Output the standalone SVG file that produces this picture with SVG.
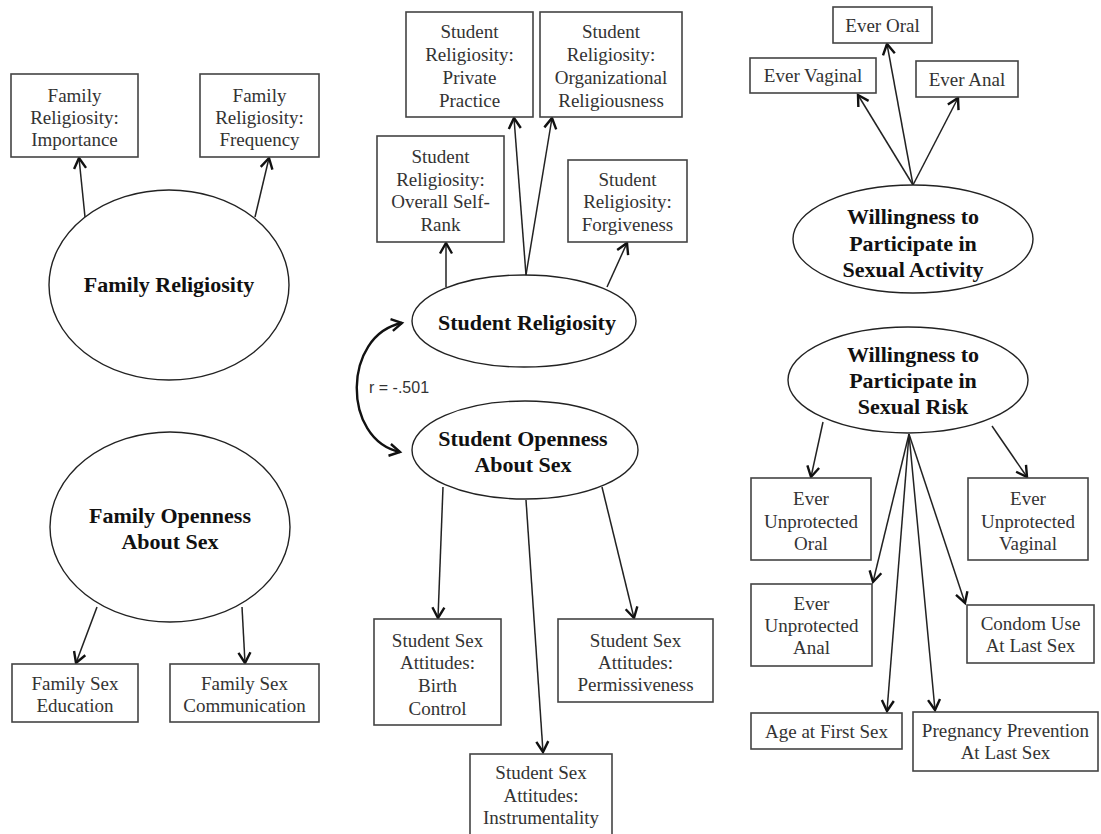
<svg xmlns="http://www.w3.org/2000/svg" width="1101" height="834" viewBox="0 0 1101 834">
<defs>
<marker id="ah" viewBox="-13 -8 16 16" refX="0" refY="0" markerWidth="16" markerHeight="16" markerUnits="userSpaceOnUse" orient="auto-start-reverse">
<path d="M-10.5,-6 L0,0 L-10.5,6" fill="none" stroke="#111" stroke-width="2.4"/>
</marker>
</defs>
<style>
.box{fill:#fff;stroke:#444;stroke-width:1.6}
.ell{fill:#fff;stroke:#222;stroke-width:1.4}
.t{font-family:"Liberation Serif","Times New Roman",serif;font-size:19px;fill:#333;text-anchor:middle}
.b{font-family:"Liberation Serif","Times New Roman",serif;font-size:22px;font-weight:bold;fill:#111;text-anchor:middle}
.c{fill:none;stroke:#222;stroke-width:1.5;marker-end:url(#ah)}
.r{font-family:"Liberation Sans",Arial,sans-serif;font-size:16px;fill:#333}
</style>
<rect width="1101" height="834" fill="#fff"/>

<g id="connectors">
<path class="c" d="M85,217 L79,158"/>
<path class="c" d="M255,217 L269,158"/>
<path class="c" d="M446,287 L446,243"/>
<path class="c" d="M526,275 L514,118"/>
<path class="c" d="M526,275 L552,118"/>
<path class="c" d="M607,287 L627,243"/>
<path class="c" d="M913,185 L858,95"/>
<path class="c" d="M913,185 L887,44"/>
<path class="c" d="M913,185 L958,98"/>
<path class="c" d="M97,607 L76,663"/>
<path class="c" d="M242,607 L245,663"/>
<path class="c" d="M443,487 L438,618"/>
<path class="c" d="M526,500 L543,752"/>
<path class="c" d="M602,487 L634,618"/>
<path class="c" d="M823,422 L811,477"/>
<path class="c" d="M992,426 L1027,477"/>
<path class="c" d="M909,434 L873,582"/>
<path class="c" d="M909,434 L887,711"/>
<path class="c" d="M909,434 L935,710"/>
<path class="c" d="M909,434 L965,603"/>
<path d="M402,323 C342,335 342,440 400,452" fill="none" stroke="#111" stroke-width="2.4" marker-start="url(#ah)" marker-end="url(#ah)"/>
<text class="r" x="369" y="393">r = -.501</text>
</g>

<g id="family-religiosity">
<ellipse class="ell" cx="169" cy="285" rx="120" ry="95"/>
<text class="b" x="169" y="292">Family Religiosity</text>
</g>
<g id="fr-importance">
<rect class="box" x="11" y="74" width="127" height="83"/>
<text class="t" x="74.5" y="102">Family</text>
<text class="t" x="74.5" y="124">Religiosity:</text>
<text class="t" x="74.5" y="146">Importance</text>
</g>
<g id="fr-frequency">
<rect class="box" x="200" y="74" width="119" height="83"/>
<text class="t" x="259.5" y="102">Family</text>
<text class="t" x="259.5" y="124">Religiosity:</text>
<text class="t" x="259.5" y="146">Frequency</text>
</g>

<g id="family-openness">
<ellipse class="ell" cx="170" cy="527" rx="120" ry="95"/>
<text class="b" x="170" y="523">Family Openness</text>
<text class="b" x="170" y="549">About Sex</text>
</g>
<g id="fs-education">
<rect class="box" x="12" y="664" width="126" height="58"/>
<text class="t" x="75" y="690">Family Sex</text>
<text class="t" x="75" y="712">Education</text>
</g>
<g id="fs-communication">
<rect class="box" x="170" y="664" width="149" height="58"/>
<text class="t" x="244.5" y="690">Family Sex</text>
<text class="t" x="244.5" y="712">Communication</text>
</g>

<g id="student-religiosity">
<ellipse class="ell" cx="524" cy="321" rx="112" ry="46"/>
<text class="b" x="527" y="330">Student Religiosity</text>
</g>
<g id="sr-private">
<rect class="box" x="406" y="12" width="127" height="105"/>
<text class="t" x="469.5" y="38">Student</text>
<text class="t" x="469.5" y="61">Religiosity:</text>
<text class="t" x="469.5" y="84">Private</text>
<text class="t" x="469.5" y="107">Practice</text>
</g>
<g id="sr-organizational">
<rect class="box" x="540" y="12" width="142" height="105"/>
<text class="t" x="611" y="38">Student</text>
<text class="t" x="611" y="61">Religiosity:</text>
<text class="t" x="611" y="84">Organizational</text>
<text class="t" x="611" y="107">Religiousness</text>
</g>
<g id="sr-overall">
<rect class="box" x="377" y="136" width="127" height="106"/>
<text class="t" x="440.5" y="163">Student</text>
<text class="t" x="440.5" y="186">Religiosity:</text>
<text class="t" x="440.5" y="208">Overall Self-</text>
<text class="t" x="440.5" y="231">Rank</text>
</g>
<g id="sr-forgiveness">
<rect class="box" x="568" y="160" width="119" height="82"/>
<text class="t" x="627.5" y="186">Student</text>
<text class="t" x="627.5" y="208">Religiosity:</text>
<text class="t" x="627.5" y="231">Forgiveness</text>
</g>

<g id="student-openness">
<ellipse class="ell" cx="525" cy="450" rx="113" ry="49"/>
<text class="b" x="523" y="446">Student Openness</text>
<text class="b" x="523" y="472">About Sex</text>
</g>
<g id="ss-birth">
<rect class="box" x="374" y="619" width="127" height="106"/>
<text class="t" x="437.5" y="647">Student Sex</text>
<text class="t" x="437.5" y="669">Attitudes:</text>
<text class="t" x="437.5" y="692">Birth</text>
<text class="t" x="437.5" y="715">Control</text>
</g>
<g id="ss-permissiveness">
<rect class="box" x="558" y="619" width="155" height="83"/>
<text class="t" x="635.5" y="647">Student Sex</text>
<text class="t" x="635.5" y="669">Attitudes:</text>
<text class="t" x="635.5" y="691">Permissiveness</text>
</g>
<g id="ss-instrumentality">
<rect class="box" x="470" y="754" width="142" height="90"/>
<text class="t" x="541" y="779">Student Sex</text>
<text class="t" x="541" y="802">Attitudes:</text>
<text class="t" x="541" y="824">Instrumentality</text>
</g>

<g id="willingness-activity">
<ellipse class="ell" cx="913" cy="239" rx="120" ry="54"/>
<text class="b" x="913" y="224">Willingness to</text>
<text class="b" x="913" y="251">Participate in</text>
<text class="b" x="913" y="277">Sexual Activity</text>
</g>
<g id="ever-oral">
<rect class="box" x="833" y="7" width="99" height="36"/>
<text class="t" x="882.5" y="32">Ever Oral</text>
</g>
<g id="ever-vaginal">
<rect class="box" x="750" y="58" width="126" height="35"/>
<text class="t" x="813" y="82">Ever Vaginal</text>
</g>
<g id="ever-anal">
<rect class="box" x="916" y="61" width="102" height="36"/>
<text class="t" x="967" y="86">Ever Anal</text>
</g>

<g id="willingness-risk">
<ellipse class="ell" cx="908" cy="380" rx="120" ry="53"/>
<text class="b" x="913" y="362">Willingness to</text>
<text class="b" x="913" y="388">Participate in</text>
<text class="b" x="913" y="414">Sexual Risk</text>
</g>
<g id="eu-oral">
<rect class="box" x="751" y="478" width="120" height="82"/>
<text class="t" x="811" y="505">Ever</text>
<text class="t" x="811" y="528">Unprotected</text>
<text class="t" x="811" y="550">Oral</text>
</g>
<g id="eu-vaginal">
<rect class="box" x="968" y="478" width="120" height="82"/>
<text class="t" x="1028" y="505">Ever</text>
<text class="t" x="1028" y="528">Unprotected</text>
<text class="t" x="1028" y="550">Vaginal</text>
</g>
<g id="eu-anal">
<rect class="box" x="751" y="584" width="121" height="82"/>
<text class="t" x="811.5" y="610">Ever</text>
<text class="t" x="811.5" y="632">Unprotected</text>
<text class="t" x="811.5" y="654">Anal</text>
</g>
<g id="condom-use">
<rect class="box" x="967" y="605" width="127" height="58"/>
<text class="t" x="1030.5" y="630">Condom Use</text>
<text class="t" x="1030.5" y="652">At Last Sex</text>
</g>
<g id="age-first-sex">
<rect class="box" x="751" y="713" width="151" height="36"/>
<text class="t" x="826.5" y="738">Age at First Sex</text>
</g>
<g id="pregnancy-prevention">
<rect class="box" x="913" y="712" width="185" height="59"/>
<text class="t" x="1005.5" y="737">Pregnancy Prevention</text>
<text class="t" x="1005.5" y="759">At Last Sex</text>
</g>
</svg>
